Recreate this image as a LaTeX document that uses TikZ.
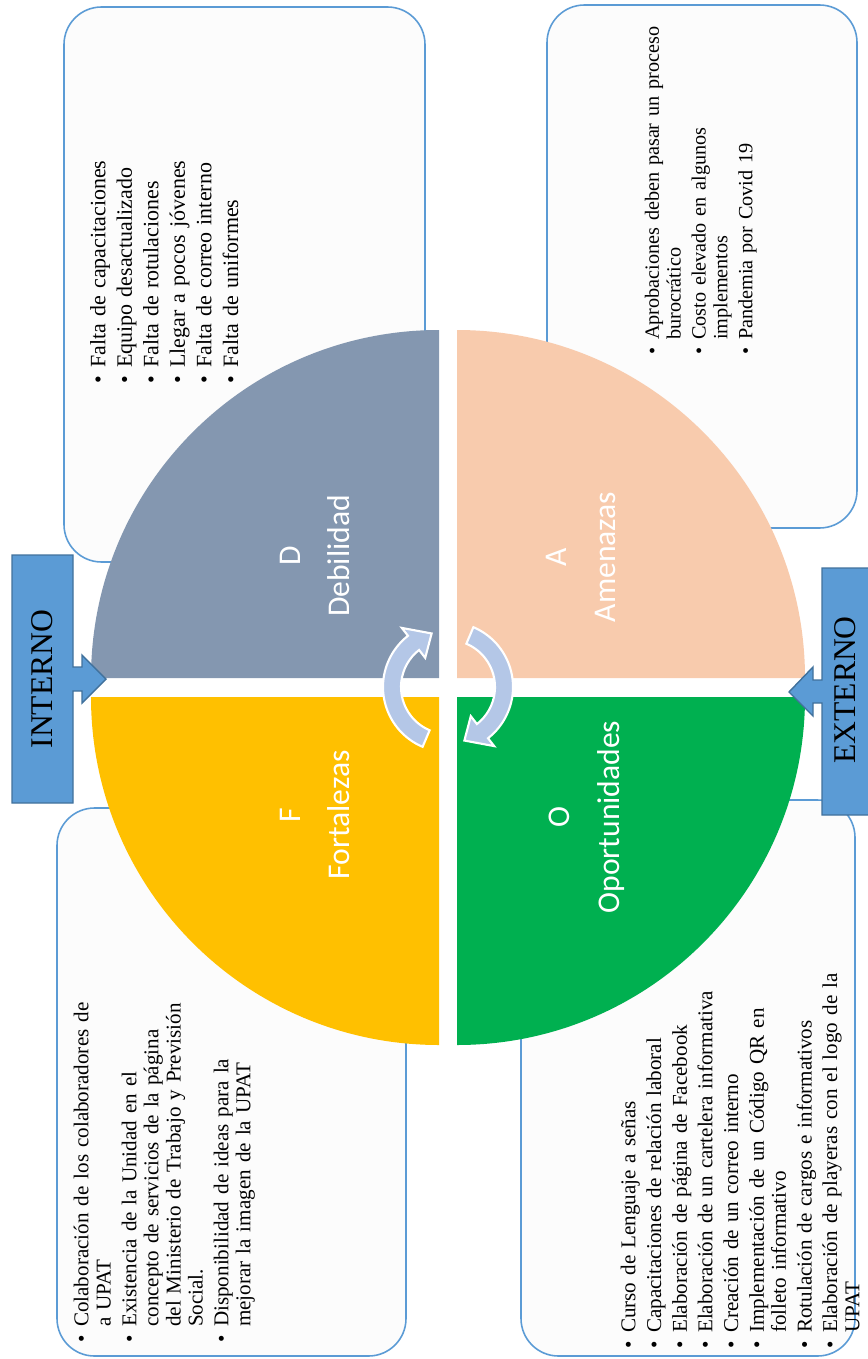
\documentclass[tikz,border=0pt]{standalone}
\usepackage{fontspec}
\setmainfont{Liberation Serif}
\newfontfamily\etiqueta{Carlito}
\definecolor{debil}{HTML}{8497B0}
\definecolor{amenaza}{HTML}{F8CBAD}
\definecolor{fortaleza}{HTML}{FFC000}
\definecolor{oportunidad}{HTML}{00B050}
\definecolor{colgiro}{HTML}{B4C7E7}
\definecolor{colbloque}{HTML}{5B9BD5}
\definecolor{colbloqueborde}{HTML}{41719C}
\definecolor{marco}{HTML}{5B9BD5}
\definecolor{fondo}{HTML}{FCFCFC}
\tikzset{
  caja/.style={draw=marco, fill=fondo, line width=0.9pt, rounded corners=0.75cm},
  lista/.style={rotate=90, anchor=north west, inner sep=0pt, text width=9cm,
                align=left, font=\fontsize{12}{12.6}\selectfont},
  cuadrante/.style={rotate=90, align=center, text=white, inner sep=0pt,
                    font=\etiqueta\fontsize{18}{28.4}\selectfont},
  bloque/.style={fill=colbloque, draw=colbloqueborde, line width=0.8pt},
  lado/.style={rotate=90, inner sep=0pt, font=\fontsize{18}{20}\selectfont},
  flecha/.style={fill=colgiro, draw=white, line width=1.2pt},
}
\newenvironment{vinetas}{%
  \begin{list}{\textbullet}{%
    \setlength{\leftmargin}{9pt}\setlength{\labelwidth}{4.5pt}%
    \setlength{\labelsep}{4.5pt}\setlength{\itemsep}{2pt}%
    \setlength{\parsep}{0pt}\setlength{\topsep}{0pt}%
    \setlength{\partopsep}{0pt}}\raggedright}%
  {\end{list}}
% curved arrow around the centre, turned by #1
\newcommand{\vuelta}[1]{%
  \begin{scope}[shift={(448,687)}, rotate=#1]
    \filldraw[flecha] (113:65) arc[start angle=113, end angle=232, radius=65]
      -- (232:75) -- (253:56) -- (232:37) -- (232:47)
      arc[start angle=232, end angle=113, radius=47] -- cycle;
  \end{scope}}

\begin{document}
\begin{tikzpicture}[x=0.02cm, y=-0.02cm]
  \useasboundingbox (0,0) rectangle (867,1359);

  % ---- text boxes -------------------------------------------------------
  \draw[caja] (64,7) rectangle (425,562);
  \draw[caja] (547,5) rectangle (857,528);
  \draw[caja] (57,808) rectangle (406,1356);
  \draw[caja] (521,800) rectangle (855,1356);

  % ---- quadrants --------------------------------------------------------
  \fill[debil] (439,678) -- ++(-348,0)
    arc[start angle=180, end angle=270, radius=348] -- cycle;
  \fill[amenaza] (457,678) -- ++(0,-348)
    arc[start angle=270, end angle=360, radius=348] -- cycle;
  \fill[fortaleza] (439,697) -- ++(-348,0)
    arc[start angle=180, end angle=90, radius=348] -- cycle;
  \fill[oportunidad] (457,697) -- ++(348,0)
    arc[start angle=0, end angle=90, radius=348] -- cycle;

  \vuelta{0}
  \vuelta{180}

  % ---- side arrows ------------------------------------------------------
  \draw[bloque] (12,555) -- (73,555) -- (73,667) -- (82,667) -- (82,655)
    -- (106,679) -- (82,703) -- (82,691) -- (73,691) -- (73,803)
    -- (12,803) -- cycle;
  \node[lado] (interno) at (42,679) {INTERNO};

  \draw[bloque] (872,568) -- (822,568) -- (822,680) -- (813,680) -- (813,667)
    -- (789,692) -- (813,716) -- (813,703) -- (822,703) -- (822,815)
    -- (872,815) -- cycle;
  \node[lado] (externo) at (845,690) {EXTERNO};

  % ---- quadrant labels --------------------------------------------------
  \node[cuadrante] (nd) at (315,556) {D\\Debilidad};
  \node[cuadrante] (na) at (581,557) {A\\Amenazas};
  \node[cuadrante] (nf) at (315,815) {F\\Fortalezas};
  \node[cuadrante] (no) at (587,817) {O\\Oportunidades};

  % ---- lists ------------------------------------------------------------
  \node[lista, font=\fontsize{12.5}{13.1}\selectfont] (ld) at (82,384) {%
    \begin{vinetas}
      \item Falta de capacitaciones
      \item Equipo desactualizado
      \item Falta de rotulaciones
      \item Llegar a pocos jóvenes
      \item Falta de correo interno
      \item Falta de uniformes
    \end{vinetas}};

  \node[lista, font=\fontsize{11.5}{12.3}\selectfont] (la) at (637,356) {%
    \begin{vinetas}
      \item Aprobaciones deben pasar un proceso\\burocrático
      \item Costo elevado en algunos\\implementos
      \item Pandemia por Covid 19
    \end{vinetas}};

  \node[lista] (lf) at (66,1343) {%
    \begin{vinetas}
      \item Colaboración de los colaboradores de\\a UPAT
      \item Existencia de la Unidad en el\\concepto de servicios de la página\\del
        Ministerio de Trabajo y Previsión\\Social.
      \item Disponibilidad de ideas para la\\mejorar la imagen de la UPAT
    \end{vinetas}};

  \node[lista] (lo) at (613,1349) {%
    \begin{vinetas}
      \item Curso de Lenguaje a señas
      \item Capacitaciones de relación laboral
      \item Elaboración de página de Facebook
      \item Elaboración de un cartelera informativa
      \item Creación de un correo interno
      \item Implementación de un Código QR en\\folleto informativo
      \item Rotulación de cargos e informativos
      \item Elaboración de playeras con el logo de la\\UPAT
    \end{vinetas}};

\end{tikzpicture}
\end{document}
